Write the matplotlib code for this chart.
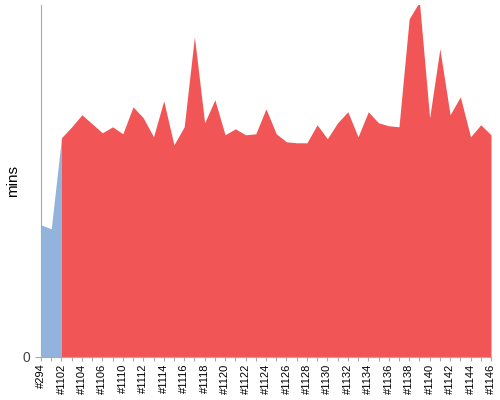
import matplotlib
matplotlib.use("Agg")
import matplotlib.pyplot as plt
import numpy as np

plt.rcParams['font.family'] = ['Liberation Sans', 'DejaVu Sans']

builds = ["#294", "#1101", "#1102", "#1103", "#1104", "#1105", "#1106", "#1108",
          "#1110", "#1111", "#1112", "#1113", "#1114", "#1115", "#1116", "#1117",
          "#1118", "#1119", "#1120", "#1121", "#1122", "#1123", "#1124", "#1125",
          "#1126", "#1127", "#1128", "#1129", "#1130", "#1131", "#1132", "#1133",
          "#1134", "#1135", "#1136", "#1137", "#1138", "#1139", "#1140", "#1141",
          "#1142", "#1143", "#1144", "#1145", "#1146"]
old_mins = [13.2, 12.8, 21.9]
new_mins = [21.9, 23.0, 24.2, 23.3, 22.4, 23.0, 22.3, 25.0, 23.9, 22.0,
            25.6, 21.2, 23.0, 32.0, 23.4, 25.7, 22.2, 22.8, 22.2, 22.3,
            24.8, 22.3, 21.5, 21.4, 21.4, 23.2, 21.8, 23.4, 24.5, 22.0,
            24.5, 23.4, 23.1, 23.0, 33.8, 35.5, 23.9, 30.8, 24.2, 26.0,
            22.0, 23.2, 22.2]

x = np.arange(len(builds))
fig = plt.figure(figsize=(5, 4), dpi=100)
ax = fig.add_axes([0.082, 0.108, 0.9, 0.88])

ax.fill_between(x[:3], old_mins, color="#92b4dc", lw=0)
ax.fill_between(x[2:], new_mins, color="#f25555", lw=0)

ax.set_xlim(0, len(builds) - 1)
ax.set_ylim(0, 35.2)
ax.set_yticks([0])
ax.set_yticklabels(["0"], fontsize=10, color="#444444")
ax.set_xticks(x)
ax.set_xticklabels([b if i % 2 == 0 else "" for i, b in enumerate(builds)],
                   rotation=90, fontsize=8)
ax.tick_params(axis="x", length=3, color="#aaaaaa", pad=2)
ax.tick_params(axis="y", length=4, color="#aaaaaa")
ax.set_ylabel("mins", fontsize=11, labelpad=2)
for s in ["top", "right"]:
    ax.spines[s].set_visible(False)
for s in ["left", "bottom"]:
    ax.spines[s].set_color("#aaaaaa")

fig.savefig("out.png")
